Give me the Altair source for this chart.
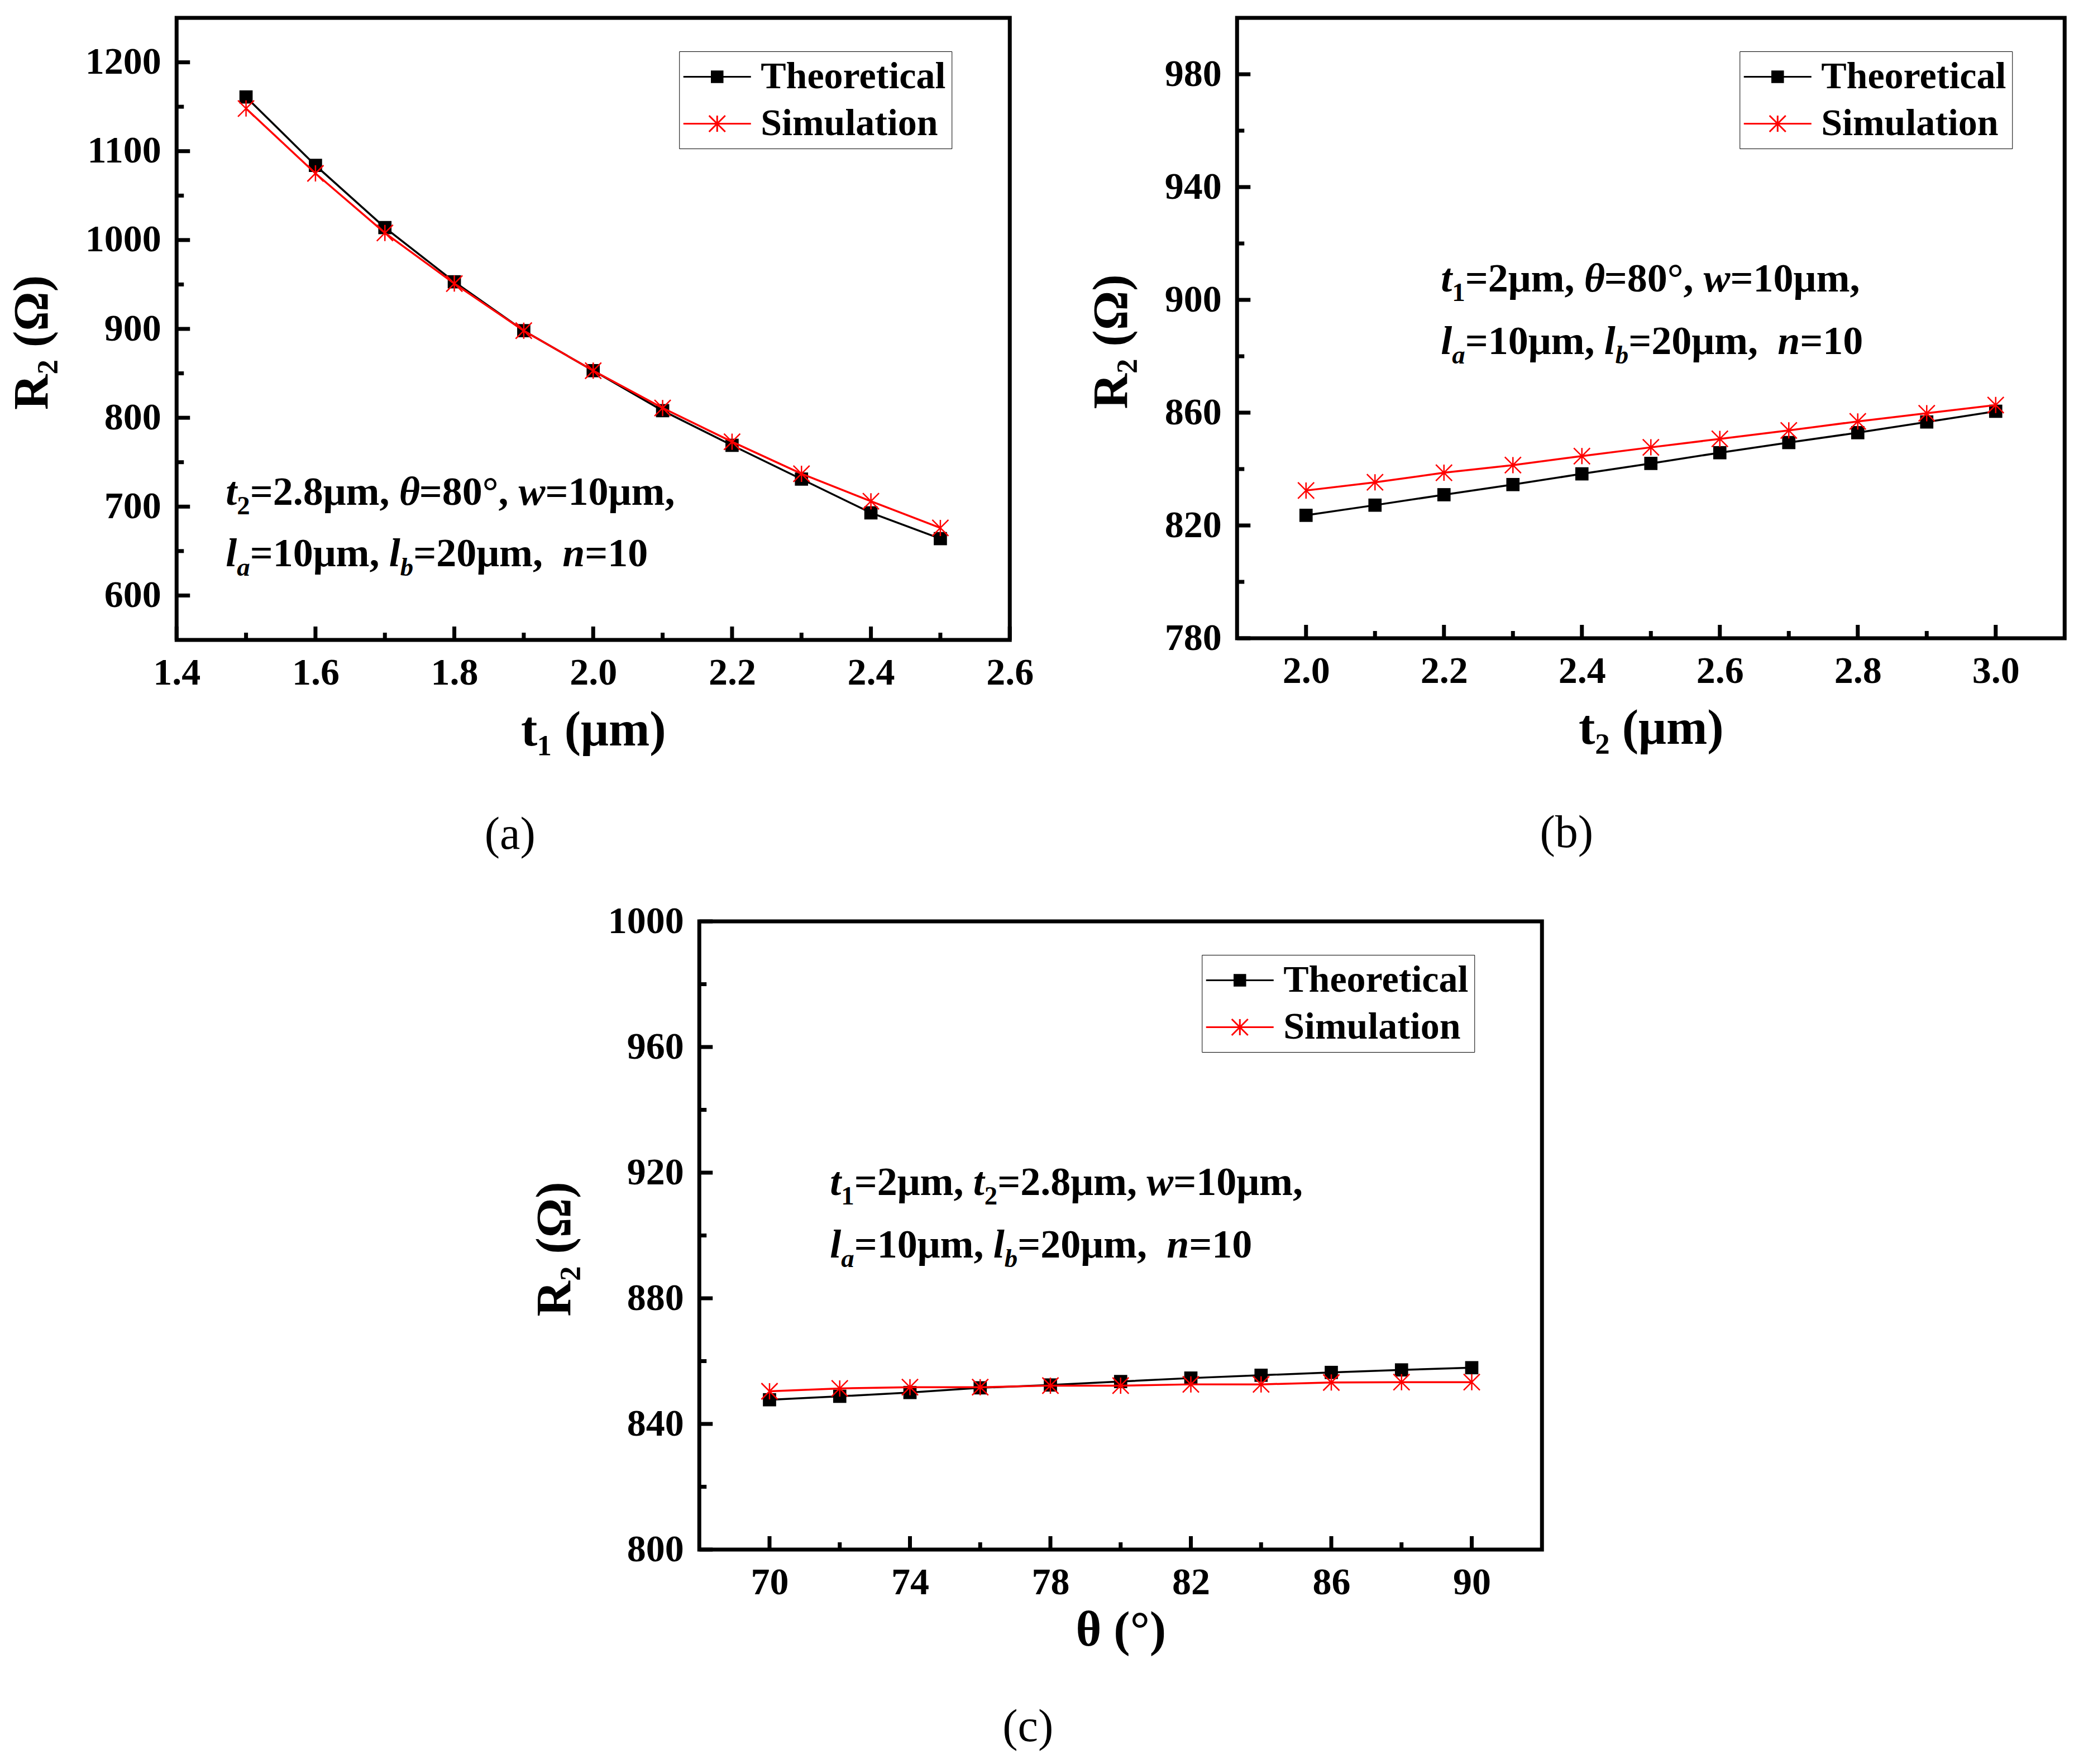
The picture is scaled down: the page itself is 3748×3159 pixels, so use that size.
import altair as alt
import pandas as pd

# ---------------- data ----------------
SERIES = ["Theoretical", "Simulation"]
COLORS = ["#000000", "#ff0000"]

x_a = [1.5, 1.6, 1.7, 1.8, 1.9, 2.0, 2.1, 2.2, 2.3, 2.4, 2.5]
theo_a = [1161, 1084, 1014, 953, 898, 853, 808, 769, 731, 693, 664]
sim_a = [1148, 1075, 1008, 951, 898, 853, 811, 773, 737, 706, 676]

x_b = [2.0, 2.1, 2.2, 2.3, 2.4, 2.5, 2.6, 2.7, 2.8, 2.9, 3.0]
theo_b = [823.6, 827.2, 830.9, 834.5, 838.3, 842.0, 845.8, 849.4, 852.9, 856.7, 860.5]
sim_b = [832.4, 835.3, 838.7, 841.4, 844.6, 847.7, 850.7, 853.7, 856.9, 859.8, 862.7]

x_c = [70, 72, 74, 76, 78, 80, 82, 84, 86, 88, 90]
theo_c = [847.7, 848.8, 850.0, 851.5, 852.4, 853.5, 854.6, 855.5, 856.4, 857.2, 857.9]
sim_c = [850.4, 851.3, 851.7, 851.7, 852.2, 852.2, 852.6, 852.6, 853.2, 853.3, 853.3]

# axis domains / ticks
dom_a_x, dom_a_y = [1.4, 2.6], [550, 1250]
xt_a = [1.4, 1.6, 1.8, 2.0, 2.2, 2.4, 2.6]
xm_a = [1.5, 1.7, 1.9, 2.1, 2.3, 2.5]
yt_a = [600, 700, 800, 900, 1000, 1100, 1200]
ym_a = [650, 750, 850, 950, 1050, 1150]

dom_b_x, dom_b_y = [1.9, 3.1], [780, 1000]
xt_b = [2.0, 2.2, 2.4, 2.6, 2.8, 3.0]
xm_b = [2.1, 2.3, 2.5, 2.7, 2.9]
yt_b = [780, 820, 860, 900, 940, 980]
ym_b = [800, 840, 880, 920, 960]

dom_c_x, dom_c_y = [68, 92], [800, 1000]
xt_c = [70, 74, 78, 82, 86, 90]
xm_c = [72, 76, 80, 84, 88]
yt_c = [800, 840, 880, 920, 960, 1000]
ym_c = [820, 860, 900, 940, 980]

FONT = "Liberation Serif"

# ---------------- symbols ----------------
# plot marker (asterisk)
P_STAR = "M0,-1V1M-1,-1L1,1M-1,1L1,-1"

# legend symbols: a line segment with the marker in its middle
S_LEG = 68                 # nominal legend symbol width (px)
U = S_LEG / 2              # path unit (px)
LINE_LEN = 121             # drawn segment length (px)
LEFT_EXTRA = 4             # segment starts this far left of the entry origin (px)
x1 = -1.0 + (LINE_LEN - LEFT_EXTRA) / U
x0 = -1.0 - LEFT_EXTRA / U
cx = (x0 + x1) / 2


def _f(v):
    return f"{v:.3f}"


_sq = "".join(
    f"M{_f(cx - h / U)},{_f(-h / U)}H{_f(cx + h / U)}V{_f(h / U)}H{_f(cx - h / U)}Z"
    for h in [9.75, 7.75, 5.75, 3.75, 1.75]
)
L_THEO = f"M{_f(x0)},0H{_f(x1)}" + _sq
a = 14.5 / U
L_SIM = (f"M{_f(x0)},0H{_f(x1)}"
         f"M{_f(cx)},{_f(-a)}V{_f(a)}"
         f"M{_f(cx - a)},{_f(-a)}L{_f(cx + a)},{_f(a)}"
         f"M{_f(cx - a)},{_f(a)}L{_f(cx + a)},{_f(-a)}")
LEG_SIZE = S_LEG * S_LEG
LABEL_OFFSET = (LINE_LEN - LEFT_EXTRA) + 16 - S_LEG

# ---------------- annotation helper ----------------
W_B = {' ': 250, ',': 250, '.': 250, '=': 570, 'm': 833, 'μ': 556, '°': 400}
for d in "0123456789":
    W_B[d] = 500
W_BI = {'t': 278, 'l': 278, 'w': 667, 'n': 556, 'θ': 500, 'a': 500, 'b': 500}


def annotation(lines, x0_, baselines, size=72):
    layers = []
    for segs, base in zip(lines, baselines):
        x = x0_
        for text, italic, sub in segs:
            fs = size * 0.65 if sub else size
            tab = W_BI if italic else W_B
            w = sum(tab.get(ch, 500) for ch in text) / 1000 * fs
            layers.append(
                alt.Chart(pd.DataFrame({"t": [text.strip()]}))
                .mark_text(align="left", baseline="alphabetic", font=FONT, fontSize=fs,
                           fontWeight="bold", fontStyle="italic" if italic else "normal",
                           color="black")
                .encode(x=alt.value(x), y=alt.value(base + (0.24 * size if sub else 0)),
                        text="t:N")
            )
            x += w
    return layers


LINE2 = [("l", True, False), ("a", True, True), ("=10μm, ", False, False),
         ("l", True, False), ("b", True, True), ("=20μm,  ", False, False),
         ("n", True, False), ("=10", False, False)]
ANN_A = [[("t", True, False), ("2", False, True), ("=2.8μm, ", False, False),
          ("θ", True, False), ("=80°, ", False, False), ("w", True, False),
          ("=10μm,", False, False)], LINE2]
ANN_B = [[("t", True, False), ("1", False, True), ("=2μm, ", False, False),
          ("θ", True, False), ("=80°, ", False, False), ("w", True, False),
          ("=10μm,", False, False)], LINE2]
ANN_C = [[("t", True, False), ("1", False, True), ("=2μm, ", False, False),
          ("t", True, False), ("2", False, True), ("=2.8μm, ", False, False),
          ("w", True, False), ("=10μm,", False, False)], LINE2]


def panel(xs, theo, sim, dom_x, dom_y, xt, xm, yt, ym, xfmt, xtitle, sub, W, H,
          ann, ann_x, ann_y, x_title_pad, sub_dx, sub_offset):
    xscale = alt.Scale(domain=dom_x, nice=False, zero=False)
    yscale = alt.Scale(domain=dom_y, nice=False, zero=False)
    xaxis = alt.Axis(values=xt, format=xfmt, title=xtitle, labelPadding=25,
                     titlePadding=x_title_pad)
    yaxis = alt.Axis(values=yt, format="d", title="R₂ (Ω)", labelPadding=28, titlePadding=50,
                     titleY=H / 2 + 24)

    def X():
        return alt.X("x:Q", scale=xscale, axis=xaxis)

    def Y():
        return alt.Y("y:Q", scale=yscale, axis=yaxis)

    df_t = pd.DataFrame({"x": xs, "y": theo, "series": SERIES[0]})
    df_s = pd.DataFrame({"x": xs, "y": sim, "series": SERIES[1]})

    line_t = alt.Chart(df_t).mark_line(color=COLORS[0], strokeWidth=3.5).encode(x=X(), y=Y())
    pts_t = alt.Chart(df_t).mark_point(shape="square", filled=True, size=560, color=COLORS[0],
                                       opacity=1).encode(x=X(), y=Y())
    line_s = alt.Chart(df_s).mark_line(color=COLORS[1], strokeWidth=3.5).encode(x=X(), y=Y())
    pts_s = alt.Chart(df_s).mark_point(shape=P_STAR, filled=False, size=841, color=COLORS[1],
                                       strokeWidth=2.5, opacity=1).encode(x=X(), y=Y())

    leg = alt.Legend(title=None, orient="none", legendX=900, legendY=60,
                     labelFont=FONT, labelFontSize=68, labelFontWeight="bold",
                     labelColor="black", labelLimit=0, labelOffset=LABEL_OFFSET,
                     strokeColor="black", fillColor="white", padding=10, rowPadding=14,
                     symbolSize=LEG_SIZE, symbolStrokeWidth=3)
    df_all = pd.concat([df_t, df_s])
    legend_layer = (
        alt.Chart(df_all).transform_filter("false")
        .mark_point(filled=False, size=LEG_SIZE, strokeWidth=3, opacity=1)
        .encode(
            x=X(), y=Y(),
            color=alt.Color("series:N", scale=alt.Scale(domain=SERIES, range=COLORS), legend=leg),
            shape=alt.Shape("series:N", scale=alt.Scale(domain=SERIES, range=[L_THEO, L_SIM]),
                            legend=leg),
        )
    )

    def xticks(vals, L):
        return alt.Chart(pd.DataFrame({"x": vals})).mark_rule(color="black", strokeWidth=7).encode(
            x=X(), y=alt.value(H), y2=alt.value(H - L))

    def yticks(vals, L):
        return alt.Chart(pd.DataFrame({"y": vals})).mark_rule(color="black", strokeWidth=7).encode(
            y=Y(), x=alt.value(0), x2=alt.value(L))

    layers = [xticks(xt, 24), xticks(xm, 13), yticks(yt, 24), yticks(ym, 13),
              line_t, pts_t, line_s, pts_s, legend_layer] + annotation(ann, ann_x, ann_y)

    return alt.layer(*layers).properties(
        width=W, height=H,
        title=alt.TitleParams(sub, orient="bottom", anchor="middle", font=FONT, fontSize=82,
                              fontWeight="normal", color="black", offset=sub_offset, dx=sub_dx),
    )


pa = panel(x_a, theo_a, sim_a, dom_a_x, dom_a_y, xt_a, xm_a, yt_a, ym_a, ".1f", "t₁ (μm)", "(a)",
           1492, 1114, ANN_A, 88, [872, 982], 25, -149, 103)
pb = panel(x_b, theo_b, sim_b, dom_b_x, dom_b_y, xt_b, xm_b, yt_b, ym_b, ".1f", "t₂ (μm)", "(b)",
           1482, 1111, ANN_B, 365, [490, 602], 25, -151, 103)
pc = panel(x_c, theo_c, sim_c, dom_c_x, dom_c_y, xt_c, xm_c, yt_c, ym_c, "d", "θ (°)", "(c)",
           1509, 1125, ANN_C, 234, [490, 602], 8, -166, 89)

top = alt.hconcat(pa, pb, spacing=89).resolve_scale(color="independent", shape="independent") \
    .resolve_legend(color="independent", shape="independent")
chart = alt.vconcat(top, pc, spacing=72, center=True) \
    .resolve_scale(color="independent", shape="independent") \
    .resolve_legend(color="independent", shape="independent") \
    .properties(padding={"left": 2, "top": 20, "right": 0, "bottom": 0}, background="white") \
    .configure_view(stroke="black", strokeWidth=7, fill="white") \
    .configure_axis(domain=False, ticks=False, grid=False,
                    labelFont=FONT, labelFontSize=68, labelFontWeight="bold", labelColor="black",
                    titleFont=FONT, titleFontSize=88, titleFontWeight="bold", titleColor="black",
                    labelFlush=False, labelOverlap=False)

chart.save("out.html", embed_options={"renderer": "svg", "actions": False})
